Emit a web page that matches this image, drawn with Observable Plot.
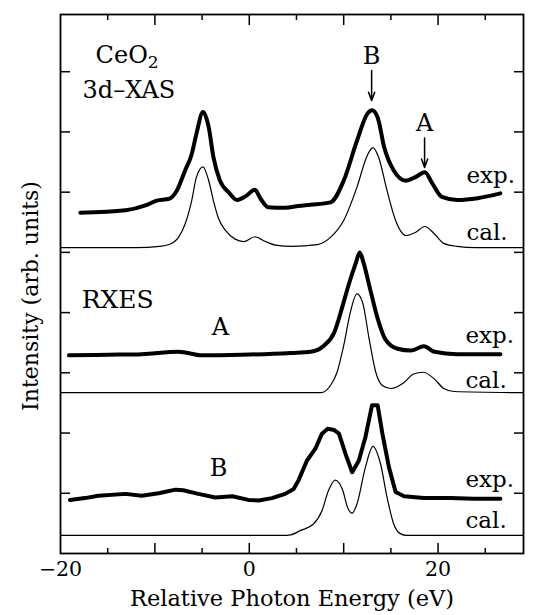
<!DOCTYPE html>
<html><head><meta charset="utf-8">
<script src="https://cdn.jsdelivr.net/npm/d3@7"></script>
<script src="https://cdn.jsdelivr.net/npm/@observablehq/plot@0.6"></script>
<style>html,body{margin:0;padding:0;background:#fff;}</style>
</head><body><div id="chart"></div>
<script>
// ---- data (x: relative photon energy in eV, y: stacked intensity in axis units) ----
const xasExpX = [-17.9,-13.1,-11.0,-9.8,-8.5,-7.7,-6.8,-6.1,-5.6,-4.9,-4.3,-3.8,-3.1,-2.2,-1.3,-0.4,0.6,1.2,2.0,3.8,5.2,6.5,8.6,10.0,11.4,12.5,13.0,13.6,14.3,15.3,16.6,17.6,18.6,19.4,20.4,22.0,24.2,26.6];
const xasExpY = [5.66,5.70,5.78,5.86,5.89,6.02,6.36,6.63,6.97,7.33,7.08,6.58,6.19,6.00,5.87,5.93,6.04,5.89,5.75,5.74,5.77,5.79,5.83,6.19,6.85,7.30,7.36,7.24,6.74,6.36,6.19,6.25,6.33,6.14,5.92,5.87,5.90,5.98];
const xasCalX = [-20,-12,-9.5,-8.5,-7.5,-6.8,-6.1,-5.6,-4.9,-4.3,-3.8,-3.3,-2.5,-1.5,-0.6,0.6,1.7,2.8,4.5,7.2,8.6,10.0,11.4,12.5,13.1,13.7,14.6,15.5,16.6,17.6,18.6,19.6,20.6,22.0,24.0,29.05];
const xasCalY = [5.08,5.08,5.10,5.13,5.25,5.47,5.86,6.25,6.42,6.19,5.86,5.58,5.36,5.22,5.18,5.26,5.18,5.12,5.10,5.13,5.25,5.53,6.08,6.61,6.74,6.58,6.02,5.53,5.28,5.33,5.43,5.31,5.15,5.10,5.08,5.08];
const rxesAExpX = [-19.1,-14.9,-11.4,-7.5,-5.0,-0.8,4.4,6.5,7.9,9.0,9.9,10.6,11.3,11.7,12.1,12.8,13.6,14.4,15.7,17.1,18.5,19.6,22.0,26.6];
const rxesAExpY = [3.29,3.30,3.31,3.35,3.29,3.30,3.33,3.35,3.45,3.67,4.12,4.50,4.83,5.00,4.83,4.39,3.90,3.56,3.40,3.37,3.44,3.35,3.31,3.31];
const rxesACalX = [-20,7.6,8.6,9.3,10.0,10.7,11.4,12.0,12.7,13.4,14.1,15.0,16.4,17.4,18.4,19.6,20.6,21.7,29.05];
const rxesACalY = [2.67,2.67,2.79,3.01,3.45,4.00,4.31,4.17,3.56,3.01,2.79,2.74,2.84,2.98,3.01,2.90,2.74,2.69,2.67];
const rxesBExpX = [-19.0,-17.4,-16.0,-13.1,-11.4,-9.6,-7.8,-7.0,-5.4,-3.6,-1.8,-0.1,1.0,2.4,3.8,4.7,5.2,6.1,7.0,7.7,8.3,9.0,9.5,10.2,10.9,11.6,12.3,13.0,13.6,14.1,14.8,15.5,16.4,18.5,21.3,23.8,26.6];
const rxesBExpY = [0.89,0.92,0.96,0.99,0.96,1.00,1.06,1.05,0.99,0.93,0.95,0.89,0.88,0.92,0.99,1.07,1.21,1.54,1.74,1.99,2.07,2.05,1.99,1.65,1.35,1.54,1.93,2.46,2.46,1.99,1.43,1.02,0.95,0.92,0.92,0.91,0.91];
const rxesBCalX = [-20,3.5,4.4,5.4,6.8,7.7,8.4,9.1,9.9,10.4,10.9,11.4,12.3,13.1,13.9,14.6,15.3,16.0,16.7,29.05];
const rxesBCalY = [0.30,0.30,0.31,0.38,0.49,0.71,1.05,1.22,1.05,0.77,0.67,0.82,1.43,1.78,1.49,0.93,0.49,0.33,0.30,0.30];

// ---- ticks and labels ----
const xTickLabels = [-20, 0, 20];
const xMajorTicks = [-10, 0, 10, 20];
const xMinorTicks = [-15, -5, 5, 15, 25];
const yTicks = [1, 2, 3, 4, 5, 6, 7, 8];
const xTitle = "Relative Photon Energy (eV)";
const yTitle = "Intensity (arb. units)";

const pts = (xs, ys) => xs.map((x, i) => ({x, y: ys[i]}));
const font = "DejaVu Serif";

const lab = (t, x, y, size, anchor = "start") =>
  Plot.text([t], {x: x, y: y, text: d => d, fontSize: size, textAnchor: anchor, lineAnchor: "bottom", fill: "black"});

const chart = Plot.plot({
  width: 536, height: 615,
  marginLeft: 60, marginRight: 13, marginTop: 14, marginBottom: 62,
  style: {fontFamily: font, background: "#fff", color: "#000"},
  x: {domain: [-20, 29.05]},
  y: {domain: [0, 8.95]},
  marks: [
    Plot.line(pts(xasCalX, xasCalY), {x: "x", y: "y", stroke: "black", strokeWidth: 1.2, curve: "monotone-x"}),
    Plot.line(pts(rxesACalX, rxesACalY), {x: "x", y: "y", stroke: "black", strokeWidth: 1.2, curve: "monotone-x"}),
    Plot.line(pts(rxesBCalX, rxesBCalY), {x: "x", y: "y", stroke: "black", strokeWidth: 1.2, curve: "monotone-x"}),
    Plot.line(pts(xasExpX, xasExpY), {x: "x", y: "y", stroke: "black", strokeWidth: 4, curve: "monotone-x", strokeLinejoin: "round", strokeLinecap: "round"}),
    Plot.line(pts(rxesAExpX, rxesAExpY), {x: "x", y: "y", stroke: "black", strokeWidth: 4, curve: "monotone-x", strokeLinejoin: "round", strokeLinecap: "round"}),
    Plot.line(pts(rxesBExpX, rxesBExpY), {x: "x", y: "y", stroke: "black", strokeWidth: 4, curve: "linear", strokeLinejoin: "round", strokeLinecap: "round"}),
    Plot.frame({stroke: "black", strokeWidth: 1.8}),
    Plot.axisY(yTicks, {anchor: "left", tickSize: 10, dx: 10, fill: "none", stroke: "black", strokeWidth: 1.5}),
    Plot.axisY(yTicks, {anchor: "right", tickSize: 10, dx: -10, fill: "none", stroke: "black", strokeWidth: 1.5}),
    Plot.axisX(xMajorTicks, {anchor: "bottom", tickSize: 10, dy: -10, fill: "none", stroke: "black", strokeWidth: 1.5}),
    Plot.axisX(xMinorTicks, {anchor: "bottom", tickSize: 5, dy: -5, fill: "none", stroke: "black", strokeWidth: 1.5}),
    Plot.axisX(xMajorTicks, {anchor: "top", tickSize: 10, dy: 10, fill: "none", stroke: "black", strokeWidth: 1.5}),
    Plot.axisX(xMinorTicks, {anchor: "top", tickSize: 5, dy: 5, fill: "none", stroke: "black", strokeWidth: 1.5}),
    Plot.axisX(xTickLabels, {anchor: "bottom", tickSize: 0, tickPadding: 8, fontSize: 20.5, fill: "black", label: null}),
    Plot.text([xTitle], {frameAnchor: "bottom", dy: 52, lineAnchor: "bottom", fontSize: 22.5, fill: "black", text: d => d}),
    Plot.text([yTitle], {frameAnchor: "left", textAnchor: "middle", lineAnchor: "middle", rotate: -90, dx: -30, dy: 12, fontSize: 22, fill: "black", text: d => d}),
    lab("CeO2", -16.28, 8.15, 24),
    lab("3d–XAS", -17.66, 7.57, 24),
    lab("B", 12.96, 8.13, 24, "middle"),
    lab("A", 18.57, 7.02, 24, "middle"),
    Plot.arrow([0], {x1: 12.96, y1: 8.02, x2: 12.96, y2: 7.52, headLength: 9, headAngle: 40, stroke: "black", strokeWidth: 1.5}),
    Plot.arrow([0], {x1: 18.57, y1: 6.90, x2: 18.57, y2: 6.41, headLength: 9, headAngle: 40, stroke: "black", strokeWidth: 1.5}),
    lab("exp.", 23.0, 6.16, 23),
    lab("cal.", 23.0, 5.20, 23),
    lab("RXES", -17.76, 4.07, 25),
    lab("A", -3.07, 3.62, 24, "middle"),
    lab("exp.", 22.9, 3.50, 23),
    lab("cal.", 22.9, 2.74, 23),
    lab("B", -3.25, 1.28, 24, "middle"),
    lab("exp.", 22.9, 1.10, 23),
    lab("cal.", 22.9, 0.43, 23)
  ]
});

chart.querySelectorAll("text").forEach(t => {
  if (t.textContent === "CeO2") {
    t.textContent = "CeO";
    const ts = document.createElementNS("http://www.w3.org/2000/svg", "tspan");
    ts.setAttribute("font-size", "17");
    ts.setAttribute("dy", "0.3em");
    ts.textContent = "2";
    t.appendChild(ts);
  }
});
document.getElementById("chart").appendChild(chart);
</script>
</body></html>
